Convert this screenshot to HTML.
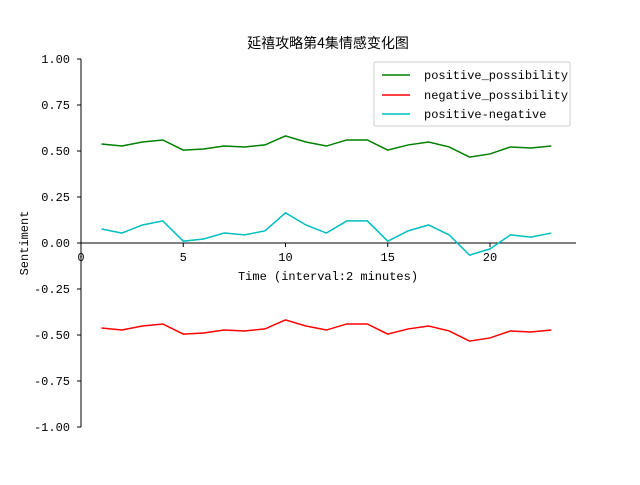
<!DOCTYPE html>
<html><head><meta charset="utf-8"><style>
body{margin:0;background:#fff}
svg text{font-family:"Liberation Mono","Noto Sans CJK SC",monospace;font-size:12px;fill:#000}
</style></head><body>
<svg id="chart" width="640" height="480" viewBox="0 0 640 480" xmlns="http://www.w3.org/2000/svg">
<rect width="640" height="480" fill="#fff"/>
<text x="328" y="48" text-anchor="middle" style="font-size:14px;font-family:'Noto Sans CJK SC','WenQuanYi Zen Hei',sans-serif">延禧攻略第4集情感变化图</text>
<g id="axes"></g>
<g id="series"></g>
<g>
<rect x="374" y="62" width="196" height="64" fill="#fff" stroke="#ccc" rx="2"/>
<line x1="382" y1="75" x2="410" y2="75" stroke="#008000" stroke-width="1.5"/>
<text x="424" y="79">positive_possibility</text>
<line x1="382" y1="95" x2="410" y2="95" stroke="#ff0000" stroke-width="1.5"/>
<text x="424" y="99">negative_possibility</text>
<line x1="382" y1="114" x2="410" y2="114" stroke="#00bfbf" stroke-width="1.5"/>
<text x="424" y="118">positive-negative</text>
</g>
</svg>
<script>
const xs=[1,2,3,4,5,6,7,8,9,10,11,12,13,14,15,16,17,18,19,20,21,22,23];
const positive=[0.538,0.527,0.549,0.560,0.505,0.511,0.527,0.522,0.533,0.582,0.549,0.527,0.560,0.560,0.505,0.533,0.549,0.522,0.467,0.484,0.522,0.516,0.527];
const negative=[-0.462,-0.473,-0.451,-0.440,-0.495,-0.489,-0.473,-0.478,-0.467,-0.418,-0.451,-0.473,-0.440,-0.440,-0.495,-0.467,-0.451,-0.478,-0.533,-0.516,-0.478,-0.484,-0.473];
const difference=[0.076,0.054,0.098,0.120,0.010,0.022,0.054,0.044,0.066,0.164,0.098,0.054,0.120,0.120,0.010,0.066,0.098,0.044,-0.066,-0.032,0.044,0.032,0.054];
const yTicks=[1,0.75,0.5,0.25,0,-0.25,-0.5,-0.75,-1];
const yTickLabels=["1.00","0.75","0.50","0.25","0.00","-0.25","-0.50","-0.75","-1.00"];
const xTicks=[0,5,10,15,20];
const NS="http://www.w3.org/2000/svg";
const X=v=>81+v*20.45, Y=v=>243-v*184;
function mk(tag,attrs,parent){const e=document.createElementNS(NS,tag);for(const k in attrs)e.setAttribute(k,attrs[k]);parent.appendChild(e);return e;}
const ax=document.getElementById('axes'), sg=document.getElementById('series');
let l=mk('line',{x1:81,y1:Y(1),x2:81,y2:Y(-1),stroke:'#000','stroke-width':1},ax);


l=mk('line',{x1:81,y1:243,x2:576,y2:243,stroke:'#000','stroke-width':1},ax);


yTicks.forEach((v,i)=>{mk('line',{x1:77,y1:Y(v),x2:81,y2:Y(v),stroke:'#000'},ax);
const t=mk('text',{x:70,y:Y(v)+4,'text-anchor':'end'},ax);t.textContent=yTickLabels[i];

});
xTicks.forEach(v=>{mk('line',{x1:X(v),y1:243,x2:X(v),y2:247,stroke:'#000'},ax);
const t=mk('text',{x:X(v),y:261,'text-anchor':'middle'},ax);t.textContent=v;

});
let t=mk('text',{x:328,y:280,'text-anchor':'middle'},ax);t.textContent='Time (interval:2 minutes)';


t=mk('text',{x:0,y:0,'text-anchor':'middle',transform:'translate(28,243) rotate(-90)'},ax);t.textContent='Sentiment';


[[positive,'#008000','positive-line'],[negative,'#ff0000','negative-line'],[difference,'#00bfbf','difference-line']].forEach(([d,c,n])=>{
const p=mk('polyline',{points:xs.map((x,i)=>X(x)+','+Y(d[i])).join(' '),fill:'none',stroke:c,'stroke-width':1.5},sg);

});
</script>
</body></html>
